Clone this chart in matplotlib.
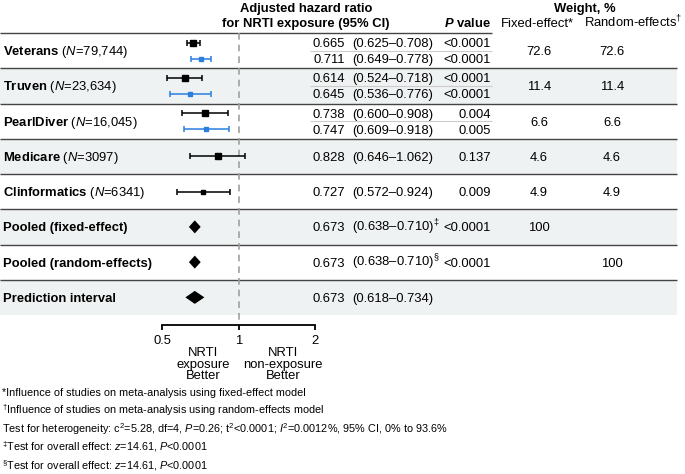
import matplotlib
matplotlib.use('Agg')
import matplotlib.pyplot as plt
from matplotlib.patches import Rectangle
from matplotlib.ticker import NullLocator

plt.rcParams['font.family'] = ['Liberation Sans', 'DejaVu Sans']
plt.rcParams['mathtext.fontset'] = 'custom'
plt.rcParams['mathtext.rm'] = 'Liberation Sans'
plt.rcParams['mathtext.it'] = 'Liberation Sans:italic'
plt.rcParams['mathtext.bf'] = 'Liberation Sans:bold'
plt.rcParams['mathtext.bfit'] = 'Liberation Sans:italic:bold'

# study level data (fixed-effect row first, random-effects row where present)
studies = ['Veterans', 'Truven', 'PearlDiver', 'Medicare', 'Clinformatics']
n_pat = ['79,744', '23,634', '16,045', '3097', '6341']
hr_fixed = [0.665, 0.614, 0.738, 0.828, 0.727]
lo_fixed = [0.625, 0.524, 0.600, 0.646, 0.572]
hi_fixed = [0.708, 0.718, 0.908, 1.062, 0.924]
p_fixed = ['<0.0001', '<0.0001', '0.004', '0.137', '0.009']
hr_random = [0.711, 0.645, 0.747]
lo_random = [0.649, 0.536, 0.609]
hi_random = [0.778, 0.776, 0.918]
p_random = ['<0.0001', '<0.0001', '0.005']
w_fixed = ['72.6', '11.4', '6.6', '4.6', '4.9']
w_random = ['72.6', '11.4', '6.6', '4.6', '4.9']

# pooled rows
pooled_labels = ['Pooled (fixed-effect)', 'Pooled (random-effects)', 'Prediction interval']
pooled_hr = [0.673, 0.673, 0.673]
pooled_lo = [0.638, 0.638, 0.618]
pooled_hi = [0.710, 0.710, 0.734]
pooled_mark = ['‡', '§', '']
pooled_p = ['<0.0001', '<0.0001', '']
pooled_wf = ['100', '', '']
pooled_wr = ['', '100', '']

footnotes = [
    '*Influence of studies on meta-analysis using fixed-effect model',
    r'$^{†}$Influence of studies on meta-analysis using random-effects model',
    r'Test for heterogeneity: c$^{2}$=5.28, df=4, $\mathit{P}$=0.26; t$^{2}$<0.0001; '
    r'$\mathit{I}^{2}$=0.0012%, 95% CI, 0% to 93.6%',
    r'$^{‡}$Test for overall effect: $\mathit{z}$=14.61, $\mathit{P}$<0.0001',
    r'$^{§}$Test for overall effect: $\mathit{z}$=14.61, $\mathit{P}$<0.0001',
]

BLUE = '#2a7fe0'
FS = 9.4
row_h = 35.25
top = 33

fig = plt.figure(figsize=(6.85, 4.74), dpi=100)
bg = fig.add_axes([0, 0, 1, 1])
bg.set_xlim(0, 685)
bg.set_ylim(474, 0)
bg.axis('off')

fx = fig.add_axes([162 / 685, 0, (315 - 162) / 685, 1])
fx.set_xscale('log', base=2)
fx.set_xlim(0.5, 2)
fx.set_ylim(474, 0)
fx.patch.set_visible(False)

# header
bg.text(306, 12, 'Adjusted hazard ratio', ha='center', va='baseline', fontsize=FS, weight='bold')
bg.text(306, 27, 'for NRTI exposure (95% CI)', ha='center', va='baseline', fontsize=FS, weight='bold')
bg.text(491, 27, r'$\mathbfit{P}$ value', ha='right', va='baseline', fontsize=FS, weight='bold')
bg.text(585, 12, 'Weight, %', ha='center', va='baseline', fontsize=FS, weight='bold')
bg.text(537, 27, 'Fixed-effect*', ha='center', va='baseline', fontsize=FS)
bg.text(633, 27, r'Random-effects$^{†}$', ha='center', va='baseline', fontsize=FS)
bg.hlines(top, 0, 492, color='#444444', lw=1.0)

# row backgrounds and separators
n_rows = len(studies) + len(pooled_labels)
for i in range(n_rows):
    y0 = top + i * row_h
    if i % 2 == 1:
        bg.add_patch(Rectangle((0, y0), 677, row_h, color='#eff2f2', lw=0, zorder=0))
    if i > 0:
        bg.hlines(y0, 0, 677, color='#444444', lw=1.0)

def values(y, hr, lo, hi, p, mark=''):
    bg.text(345, y + 4.5, f'{hr:.3f}', ha='right', va='baseline', fontsize=FS)
    ci = f'({lo:.3f}–{hi:.3f})'
    if mark:
        ci += '$^{' + mark + '}$'
    bg.text(352, y + 4.5, ci, ha='left', va='baseline', fontsize=FS)
    bg.text(491, y + 4.5, p, ha='right', va='baseline', fontsize=FS)

for i, name in enumerate(studies):
    yc = top + i * row_h + row_h / 2
    bg.text(3, yc + 4.5, r'$\mathbf{' + name + r'}$ ($\mathit{N}$=' + n_pat[i] + ')',
            ha='left', va='baseline', fontsize=FS)
    bg.text(539, yc + 4.5, w_fixed[i], ha='center', va='baseline', fontsize=FS)
    bg.text(612, yc + 4.5, w_random[i], ha='center', va='baseline', fontsize=FS)
    if i < len(hr_random):
        y1, y2 = yc - 8, yc + 8
        bg.hlines(yc, 310, 492, color='#cccccc', lw=0.8)
        values(y1, hr_fixed[i], lo_fixed[i], hi_fixed[i], p_fixed[i])
        values(y2, hr_random[i], lo_random[i], hi_random[i], p_random[i])
        fx.errorbar(hr_fixed[i], y1, xerr=[[hr_fixed[i] - lo_fixed[i]], [hi_fixed[i] - hr_fixed[i]]],
                    fmt='s', color='black', ms=4.5, elinewidth=1.1, capsize=2.2, capthick=1.1)
        fx.errorbar(hr_random[i], y2, xerr=[[hr_random[i] - lo_random[i]], [hi_random[i] - hr_random[i]]],
                    fmt='s', color=BLUE, ms=3, elinewidth=1.1, capsize=2.2, capthick=1.1)
    else:
        values(yc, hr_fixed[i], lo_fixed[i], hi_fixed[i], p_fixed[i])
        fx.errorbar(hr_fixed[i], yc, xerr=[[hr_fixed[i] - lo_fixed[i]], [hi_fixed[i] - hr_fixed[i]]],
                    fmt='s', color='black', ms=4.5 if i == 3 else 3.5,
                    elinewidth=1.1, capsize=2.2, capthick=1.1)

for j, label in enumerate(pooled_labels):
    yc = top + (len(studies) + j) * row_h + row_h / 2
    bg.text(3, yc + 4.5, label, ha='left', va='baseline', fontsize=FS, weight='bold')
    values(yc, pooled_hr[j], pooled_lo[j], pooled_hi[j], pooled_p[j], pooled_mark[j])
    bg.text(539, yc + 4.5, pooled_wf[j], ha='center', va='baseline', fontsize=FS)
    bg.text(612, yc + 4.5, pooled_wr[j], ha='center', va='baseline', fontsize=FS)
    h = 6.5
    fx.fill([pooled_lo[j], pooled_hr[j], pooled_hi[j], pooled_hr[j]],
            [yc, yc - h, yc, yc + h], color='black', lw=0)

# null line and axis
axis_y = 325
fx.vlines(1, top, axis_y, color='#a0a0a0', lw=1.2, linestyles=(0, (4, 3)), zorder=0)
for s in ['top', 'left', 'right']:
    fx.spines[s].set_visible(False)
fx.spines['bottom'].set_position(('data', axis_y))
fx.spines['bottom'].set_linewidth(1.3)
fx.yaxis.set_visible(False)
fx.set_xticks([0.5, 1, 2])
fx.set_xticklabels(['0.5', '1', '2'])
fx.xaxis.set_minor_locator(NullLocator())
fx.tick_params(axis='x', length=3.5, width=1.3, pad=4, labelsize=FS)

bg.text(203, 347, 'NRTI\nexposure\nBetter', ha='center', va='top', fontsize=FS, linespacing=0.95)
bg.text(283, 347, 'NRTI\nnon-exposure\nBetter', ha='center', va='top', fontsize=FS, linespacing=0.95)

for k, note in enumerate(footnotes):
    bg.text(2, 396 + k * 18.3, note, ha='left', va='baseline', fontsize=7.8)

fig.savefig('out.png', dpi=100)
